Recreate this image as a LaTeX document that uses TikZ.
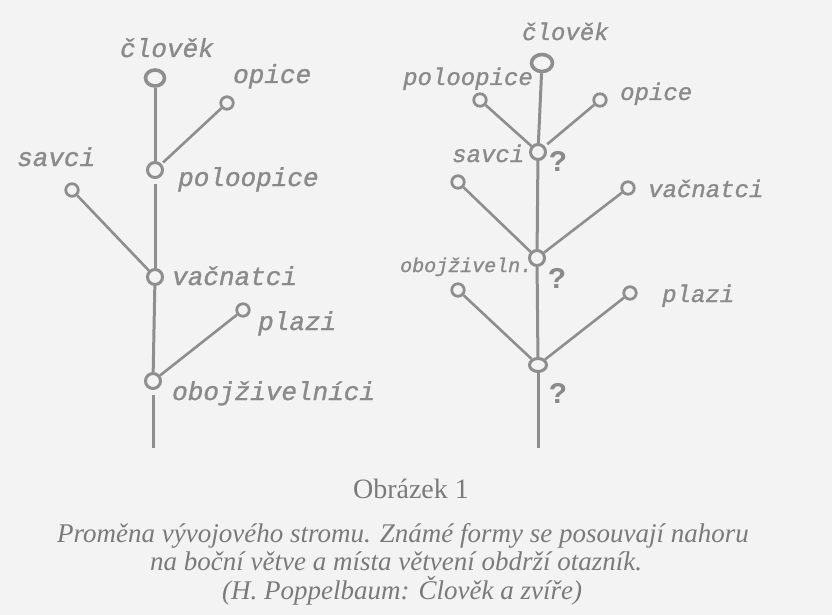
\documentclass[tikz,border=0pt]{standalone}
\usepackage{fontspec}
\setmainfont{Liberation Serif}
\newfontfamily\hand[FakeBold=1.2]{Liberation Mono}
\newfontfamily\qfont{Liberation Mono}
\usetikzlibrary{shapes.geometric}
\definecolor{bg}{HTML}{F3F3F3}
\definecolor{ink}{HTML}{8E8E8E}
\definecolor{hinkc}{HTML}{8A8A8A}
\definecolor{captc}{HTML}{7A7A7A}
\tikzset{
  bignode/.style={draw=ink, ellipse, minimum width=19pt, minimum height=16pt, inner sep=0pt, line width=3.6pt},
  midnode/.style={draw=ink, circle, minimum size=15pt, inner sep=0pt, line width=3pt},
  leafnode/.style={draw=ink, circle, minimum size=12.5pt, inner sep=0pt, line width=2.8pt},
  stem/.style={draw=ink, line width=3pt},
  branch/.style={draw=ink, line width=2.6pt},
  lblL/.style={anchor=base west, inner sep=0pt, text=hinkc, font=\hand\itshape\fontsize{26}{26}\selectfont},
  lblR/.style={anchor=base west, inner sep=0pt, text=hinkc, font=\hand\itshape\fontsize{24}{24}\selectfont},
  qmark/.style={anchor=base west, inner sep=0pt, text=hinkc, font=\qfont\bfseries\fontsize{30}{30}\selectfont},
  capt/.style={inner sep=0pt, text=captc},
  captit/.style={capt, anchor=base west, font=\itshape\fontsize{27}{27}\selectfont}
}
\begin{document}
\begin{tikzpicture}[x=1pt,y=-1pt]
\useasboundingbox (0,0) rectangle (832,615);
\fill[bg] (0,0) rectangle (832,615);
% ---------- left tree ----------
\node[bignode] (L1) at (155,78) {};
\node[leafnode] (Lop) at (227,103) {};
\node[midnode] (L2) at (155,170) {};
\node[leafnode] (Lsa) at (72,190) {};
\node[midnode] (L3) at (155,277) {};
\node[leafnode] (Lpl) at (243,310) {};
\node[midnode] (L4) at (153,381) {};
\coordinate (Lend) at (153,448);
\draw[stem] (L1) -- (L2);
\draw[stem, shorten <=5pt] (L2) -- (L3);
\draw[stem] (L3) -- (L4);
\draw[stem, shorten <=5pt] (L4) -- (Lend);
\draw[branch, shorten >=2pt] (Lop) -- (L2);
\draw[branch] (Lsa) -- (L3);
\draw[branch] (Lpl) -- (L4);
\node[lblL] (tL1) at (120,57) {člověk};
\node[lblL] (tLop) at (233,83) {opice};
\node[lblL] (tL2) at (178,186) {poloopice};
\node[lblL] (tLsa) at (17,166) {savci};
\node[lblL] (tL3) at (172,285) {vačnatci};
\node[lblL] (tLpl) at (258,330) {plazi};
\node[lblL] (tL4) at (172,400) {obojživelníci};
% ---------- right tree ----------
\node[bignode, minimum width=21pt, minimum height=17pt] (R1) at (542,63) {};
\node[leafnode] (Rpo) at (480,100) {};
\node[leafnode] (Rop) at (600,100) {};
\node[midnode] (R2) at (538,152) {};
\node[leafnode] (Rsa) at (458,182) {};
\node[leafnode] (Rva) at (628,188) {};
\node[midnode] (R3) at (537,258) {};
\node[leafnode] (Rob) at (458,290) {};
\node[leafnode] (Rpl) at (630,293) {};
\node[midnode, minimum width=17pt, minimum height=13pt, ellipse] (R4) at (538,365) {};
\coordinate (Rend) at (538,448);
\draw[stem] (R1) -- (R2);
\draw[stem] (R2) -- (R3);
\draw[stem] (R3) -- (R4);
\draw[stem] (R4) -- (Rend);
\draw[branch] (Rpo) -- (R2);
\draw[branch, shorten >=3pt] (Rop) -- (R2);
\draw[branch] (Rsa) -- (R3);
\draw[branch] (Rva) -- (R3);
\draw[branch] (Rob) -- (R4);
\draw[branch] (Rpl) -- (R4);
\node[lblR] (tR1) at (522,40) {člověk};
\node[lblR] (tRpo) at (403,85) {poloopice};
\node[lblR] (tRop) at (620,100) {opice};
\node[lblR] (tRsa) at (452,162) {savci};
\node[lblR] (tRva) at (648,197) {vačnatci};
\node[lblR, font=\hand\itshape\fontsize{20}{20}\selectfont] (tRob) at (400,272) {obojživeln.};
\node[lblR] (tRpl) at (662,302) {plazi};
\node[qmark] (q1) at (549,171) {?};
\node[qmark] (q2) at (548,288) {?};
\node[qmark] (q3) at (549,403) {?};
% ---------- caption ----------
\node[capt, anchor=base, font=\fontsize{28}{28}\selectfont] (cap0) at (411,498) {Obrázek 1};
\node[captit] (cap1) at (57,542) {Proměna vývojového stromu. Známé formy se posouvají nahoru};
\node[captit] (cap2) at (150,570) {na boční větve a místa větvení obdrží otazník.};
\node[captit] (cap3) at (222,599) {(H. Poppelbaum: Člověk a zvíře)};
\end{tikzpicture}
\end{document}
